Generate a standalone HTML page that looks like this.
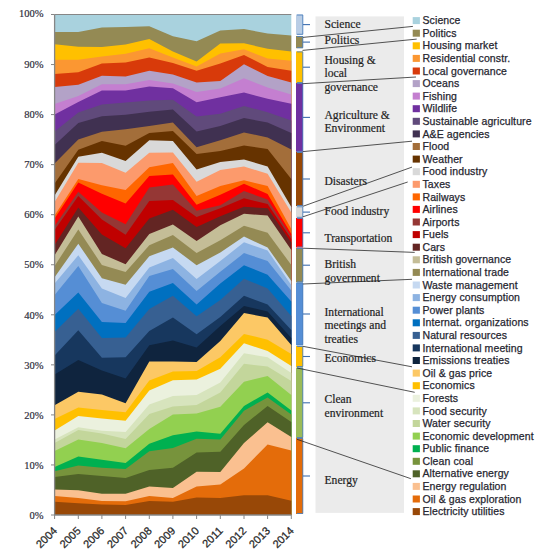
<!DOCTYPE html>
<html><head><meta charset="utf-8">
<style>
html,body{margin:0;padding:0;background:#fff;width:550px;height:553px;overflow:hidden}
svg{display:block}
.yl{font-family:"Liberation Serif",serif;font-size:10.5px;fill:#303040;stroke:#303040;stroke-width:0.2px;text-anchor:end}
.xl{font-family:"Liberation Sans",sans-serif;font-size:11px;fill:#262626;stroke:#262626;stroke-width:0.25px;text-anchor:end}
.cl{font-family:"Liberation Serif",serif;font-size:11.6px;fill:#1e1e1e;stroke:#1e1e1e;stroke-width:0.2px}
.lg{font-family:"Liberation Sans",sans-serif;font-size:10.5px;letter-spacing:0.1px;fill:#262630;stroke:#262630;stroke-width:0.25px}
</style></head><body>
<svg width="550" height="553" viewBox="0 0 550 553">
<polygon points="54.6,14.5 78.3,14.5 101.9,14.5 125.6,14.5 149.3,14.5 172.9,14.5 196.6,14.5 220.3,14.5 244.0,14.5 267.6,14.5 291.3,14.5 291.3,515.0 54.6,515.0" fill="#a9d2de"/>
<polygon points="54.6,32.0 78.3,32.0 101.9,27.6 125.6,26.9 149.3,26.2 172.9,36.3 196.6,41.3 220.3,30.5 244.0,29.1 267.6,33.4 291.3,35.5 291.3,515.0 54.6,515.0" fill="#948a54"/>
<polygon points="54.6,44.2 78.3,46.8 101.9,47.0 125.6,44.5 149.3,39.1 172.9,51.5 196.6,61.4 220.3,43.5 244.0,43.3 267.6,48.8 291.3,51.4 291.3,515.0 54.6,515.0" fill="#ffc000"/>
<polygon points="54.6,59.7 78.3,59.7 101.9,56.4 125.6,53.8 149.3,48.3 172.9,57.5 196.6,66.4 220.3,53.5 244.0,49.2 267.6,58.5 291.3,60.7 291.3,515.0 54.6,515.0" fill="#fb9732"/>
<polygon points="54.6,74.1 78.3,72.2 101.9,63.6 125.6,62.5 149.3,57.5 172.9,63.0 196.6,70.8 220.3,63.6 244.0,55.0 267.6,67.0 291.3,70.8 291.3,515.0 54.6,515.0" fill="#d83a0a"/>
<polygon points="54.6,87.1 78.3,84.7 101.9,75.8 125.6,76.5 149.3,70.8 172.9,74.5 196.6,82.5 220.3,81.0 244.0,64.3 267.6,76.1 291.3,82.5 291.3,515.0 54.6,515.0" fill="#b3a2c7"/>
<polygon points="54.6,104.1 78.3,96.0 101.9,84.3 125.6,84.2 149.3,80.0 172.9,83.5 196.6,92.0 220.3,88.6 244.0,78.2 267.6,87.5 291.3,94.4 291.3,515.0 54.6,515.0" fill="#c47fd0"/>
<polygon points="54.6,114.5 78.3,102.0 101.9,90.5 125.6,90.4 149.3,86.5 172.9,88.3 196.6,102.2 220.3,97.2 244.0,92.6 267.6,98.7 291.3,103.7 291.3,515.0 54.6,515.0" fill="#7030a0"/>
<polygon points="54.6,131.5 78.3,112.5 101.9,104.5 125.6,102.4 149.3,100.5 172.9,99.8 196.6,116.6 220.3,113.8 244.0,105.9 267.6,112.3 291.3,120.5 291.3,515.0 54.6,515.0" fill="#604a7b"/>
<polygon points="54.6,145.0 78.3,123.0 101.9,116.3 125.6,114.8 149.3,111.8 172.9,109.5 196.6,131.5 220.3,126.0 244.0,118.1 267.6,122.4 291.3,133.0 291.3,515.0 54.6,515.0" fill="#403151"/>
<polygon points="54.6,163.5 78.3,139.5 101.9,131.7 125.6,129.3 149.3,126.0 172.9,122.4 196.6,147.3 220.3,140.3 244.0,132.4 267.6,137.5 291.3,149.5 291.3,515.0 54.6,515.0" fill="#a36e3a"/>
<polygon points="54.6,183.5 78.3,149.7 101.9,141.0 125.6,145.8 149.3,133.0 172.9,131.0 196.6,154.0 220.3,150.9 244.0,145.5 267.6,149.1 291.3,179.0 291.3,515.0 54.6,515.0" fill="#663300"/>
<polygon points="54.6,195.5 78.3,156.7 101.9,152.8 125.6,161.0 149.3,140.3 172.9,141.0 196.6,169.5 220.3,162.0 244.0,159.4 267.6,166.6 291.3,207.0 291.3,515.0 54.6,515.0" fill="#d9d9d9"/>
<polygon points="54.6,202.0 78.3,162.8 101.9,163.0 125.6,172.8 149.3,152.7 172.9,152.4 196.6,181.8 220.3,170.0 244.0,166.6 267.6,173.7 291.3,212.5 291.3,515.0 54.6,515.0" fill="#fc9a6c"/>
<polygon points="54.6,215.5 78.3,179.0 101.9,185.3 125.6,190.0 149.3,167.3 172.9,163.0 196.6,196.0 220.3,186.0 244.0,180.2 267.6,186.0 291.3,229.0 291.3,515.0 54.6,515.0" fill="#ff6600"/>
<polygon points="54.6,218.5 78.3,182.6 101.9,193.8 125.6,203.5 149.3,175.9 172.9,174.5 196.6,204.8 220.3,194.8 244.0,183.8 267.6,193.9 291.3,234.0 291.3,515.0 54.6,515.0" fill="#ff0000"/>
<polygon points="54.6,226.0 78.3,191.7 101.9,212.5 125.6,224.3 149.3,187.5 172.9,184.5 196.6,210.7 220.3,205.3 244.0,191.0 267.6,199.6 291.3,236.5 291.3,515.0 54.6,515.0" fill="#953735"/>
<polygon points="54.6,230.0 78.3,196.0 101.9,219.5 125.6,234.8 149.3,201.0 172.9,200.0 196.6,217.0 220.3,208.3 244.0,198.2 267.6,204.0 291.3,239.0 291.3,515.0 54.6,515.0" fill="#c00000"/>
<polygon points="54.6,245.0 78.3,207.5 101.9,234.5 125.6,248.3 149.3,218.5 172.9,209.8 196.6,227.0 220.3,216.3 244.0,206.8 267.6,208.2 291.3,242.5 291.3,515.0 54.6,515.0" fill="#632523"/>
<polygon points="54.6,255.3 78.3,216.5 101.9,254.0 125.6,264.2 149.3,234.0 172.9,224.4 196.6,240.9 220.3,225.2 244.0,213.8 267.6,215.5 291.3,250.0 291.3,515.0 54.6,515.0" fill="#c4bd97"/>
<polygon points="54.6,266.0 78.3,229.4 101.9,265.0 125.6,272.0 149.3,245.3 172.9,235.1 196.6,253.1 220.3,240.3 244.0,225.8 267.6,232.8 291.3,265.0 291.3,515.0 54.6,515.0" fill="#948a54"/>
<polygon points="54.6,277.3 78.3,243.7 101.9,278.3 125.6,284.8 149.3,256.2 172.9,247.4 196.6,265.3 220.3,252.5 244.0,236.6 267.6,247.5 291.3,281.0 291.3,515.0 54.6,515.0" fill="#c6d9f1"/>
<polygon points="54.6,283.5 78.3,255.2 101.9,288.5 125.6,298.0 149.3,267.5 172.9,258.1 196.6,279.0 220.3,261.0 244.0,242.3 267.6,250.5 291.3,285.0 291.3,515.0 54.6,515.0" fill="#8db3e2"/>
<polygon points="54.6,295.0 78.3,266.0 101.9,303.0 125.6,310.8 149.3,276.1 172.9,268.9 196.6,291.0 220.3,271.8 244.0,253.1 267.6,261.0 291.3,290.5 291.3,515.0 54.6,515.0" fill="#558ed5"/>
<polygon points="54.6,315.0 78.3,292.4 101.9,322.0 125.6,323.0 149.3,291.7 172.9,283.1 196.6,304.5 220.3,283.4 244.0,265.3 267.6,274.7 291.3,301.5 291.3,515.0 54.6,515.0" fill="#0070c0"/>
<polygon points="54.6,332.0 78.3,308.7 101.9,338.0 125.6,337.5 149.3,309.0 172.9,295.8 196.6,316.3 220.3,300.0 244.0,278.8 267.6,288.4 291.3,316.0 291.3,515.0 54.6,515.0" fill="#376092"/>
<polygon points="54.6,355.5 78.3,330.3 101.9,357.8 125.6,357.2 149.3,331.0 172.9,317.4 196.6,334.3 220.3,317.0 244.0,295.8 267.6,304.5 291.3,330.0 291.3,515.0 54.6,515.0" fill="#17375e"/>
<polygon points="54.6,374.5 78.3,360.1 101.9,370.4 125.6,378.6 149.3,345.2 172.9,340.4 196.6,347.5 220.3,326.0 244.0,305.9 267.6,311.6 291.3,338.0 291.3,515.0 54.6,515.0" fill="#0f243e"/>
<polygon points="54.6,405.3 78.3,391.7 101.9,394.6 125.6,403.3 149.3,361.6 172.9,361.6 196.6,362.0 220.3,341.0 244.0,313.1 267.6,317.4 291.3,345.0 291.3,515.0 54.6,515.0" fill="#fcc865"/>
<polygon points="54.6,419.0 78.3,407.5 101.9,410.0 125.6,412.3 149.3,380.5 172.9,371.6 196.6,370.9 220.3,357.3 244.0,333.9 267.6,339.7 291.3,354.0 291.3,515.0 54.6,515.0" fill="#ffc000"/>
<polygon points="54.6,430.5 78.3,416.0 101.9,418.5 125.6,420.8 149.3,390.5 172.9,380.2 196.6,379.5 220.3,368.7 244.0,343.3 267.6,350.9 291.3,366.0 291.3,515.0 54.6,515.0" fill="#ebf1de"/>
<polygon points="54.6,439.5 78.3,427.2 101.9,430.8 125.6,432.0 149.3,404.5 172.9,396.0 196.6,395.0 220.3,382.5 244.0,353.2 267.6,357.2 291.3,373.0 291.3,515.0 54.6,515.0" fill="#d7e4bd"/>
<polygon points="54.6,443.0 78.3,430.1 101.9,433.5 125.6,439.0 149.3,414.0 172.9,406.5 196.6,405.0 220.3,392.5 244.0,363.8 267.6,366.6 291.3,381.0 291.3,515.0 54.6,515.0" fill="#c3d69b"/>
<polygon points="54.6,451.0 78.3,439.5 101.9,443.0 125.6,448.3 149.3,429.0 172.9,414.5 196.6,413.5 220.3,406.8 244.0,381.7 267.6,375.9 291.3,395.0 291.3,515.0 54.6,515.0" fill="#92d050"/>
<polygon points="54.6,467.0 78.3,456.6 101.9,459.8 125.6,463.0 149.3,443.8 172.9,435.2 196.6,431.6 220.3,433.7 244.0,405.9 267.6,392.4 291.3,410.5 291.3,515.0 54.6,515.0" fill="#00b050"/>
<polygon points="54.6,471.3 78.3,465.5 101.9,467.8 125.6,468.9 149.3,451.2 172.9,448.1 196.6,438.8 220.3,439.5 244.0,410.7 267.6,397.5 291.3,414.5 291.3,515.0 54.6,515.0" fill="#77933c"/>
<polygon points="54.6,477.0 78.3,474.0 101.9,476.0 125.6,478.0 149.3,470.0 172.9,467.7 196.6,452.6 220.3,451.7 244.0,425.1 267.6,405.9 291.3,422.0 291.3,515.0 54.6,515.0" fill="#4f6228"/>
<polygon points="54.6,489.5 78.3,490.2 101.9,493.8 125.6,493.8 149.3,486.6 172.9,488.0 196.6,471.7 220.3,472.0 244.0,443.1 267.6,422.2 291.3,437.0 291.3,515.0 54.6,515.0" fill="#fac090"/>
<polygon points="54.6,496.0 78.3,498.1 101.9,501.0 125.6,501.3 149.3,496.0 172.9,498.1 196.6,486.6 220.3,484.5 244.0,468.4 267.6,444.5 291.3,450.4 291.3,515.0 54.6,515.0" fill="#e46c0a"/>
<polygon points="54.6,501.7 78.3,503.2 101.9,504.6 125.6,505.0 149.3,501.0 172.9,501.7 196.6,497.4 220.3,498.1 244.0,495.3 267.6,495.3 291.3,500.8 291.3,515.0 54.6,515.0" fill="#984807"/>
<line x1="54.6" y1="14.5" x2="291.3" y2="14.5" stroke="#868686" stroke-width="1"/>
<line x1="54.6" y1="14.5" x2="54.6" y2="515.0" stroke="#868686" stroke-width="1.3"/>
<line x1="54.6" y1="515.0" x2="291.3" y2="515.0" stroke="#868686" stroke-width="1.3"/>
<line x1="51" y1="14.5" x2="54.6" y2="14.5" stroke="#868686" stroke-width="1"/>
<text x="43.6" y="17.2" class="yl">100%</text>
<line x1="51" y1="64.55" x2="54.6" y2="64.55" stroke="#868686" stroke-width="1"/>
<text x="43.6" y="67.8" class="yl">90%</text>
<line x1="51" y1="114.6" x2="54.6" y2="114.6" stroke="#868686" stroke-width="1"/>
<text x="43.6" y="117.9" class="yl">80%</text>
<line x1="51" y1="164.64999999999998" x2="54.6" y2="164.64999999999998" stroke="#868686" stroke-width="1"/>
<text x="43.6" y="167.9" class="yl">70%</text>
<line x1="51" y1="214.7" x2="54.6" y2="214.7" stroke="#868686" stroke-width="1"/>
<text x="43.6" y="218.4" class="yl">60%</text>
<line x1="51" y1="264.75" x2="54.6" y2="264.75" stroke="#868686" stroke-width="1"/>
<text x="43.6" y="268.4" class="yl">50%</text>
<line x1="51" y1="314.79999999999995" x2="54.6" y2="314.79999999999995" stroke="#868686" stroke-width="1"/>
<text x="43.6" y="318.5" class="yl">40%</text>
<line x1="51" y1="364.84999999999997" x2="54.6" y2="364.84999999999997" stroke="#868686" stroke-width="1"/>
<text x="43.6" y="368.5" class="yl">30%</text>
<line x1="51" y1="414.9" x2="54.6" y2="414.9" stroke="#868686" stroke-width="1"/>
<text x="43.6" y="418.6" class="yl">20%</text>
<line x1="51" y1="464.95" x2="54.6" y2="464.95" stroke="#868686" stroke-width="1"/>
<text x="43.6" y="468.6" class="yl">10%</text>
<line x1="51" y1="515.0" x2="54.6" y2="515.0" stroke="#868686" stroke-width="1"/>
<text x="43.6" y="518.7" class="yl">0%</text>
<line x1="54.6" y1="515.0" x2="54.6" y2="519.0" stroke="#868686" stroke-width="1"/>
<text transform="translate(57.8,531.5) rotate(-45)" class="xl">2004</text>
<line x1="78.3" y1="515.0" x2="78.3" y2="519.0" stroke="#868686" stroke-width="1"/>
<text transform="translate(81.5,531.5) rotate(-45)" class="xl">2005</text>
<line x1="101.9" y1="515.0" x2="101.9" y2="519.0" stroke="#868686" stroke-width="1"/>
<text transform="translate(105.1,531.5) rotate(-45)" class="xl">2006</text>
<line x1="125.6" y1="515.0" x2="125.6" y2="519.0" stroke="#868686" stroke-width="1"/>
<text transform="translate(128.8,531.5) rotate(-45)" class="xl">2007</text>
<line x1="149.3" y1="515.0" x2="149.3" y2="519.0" stroke="#868686" stroke-width="1"/>
<text transform="translate(152.5,531.5) rotate(-45)" class="xl">2008</text>
<line x1="172.9" y1="515.0" x2="172.9" y2="519.0" stroke="#868686" stroke-width="1"/>
<text transform="translate(176.1,531.5) rotate(-45)" class="xl">2009</text>
<line x1="196.6" y1="515.0" x2="196.6" y2="519.0" stroke="#868686" stroke-width="1"/>
<text transform="translate(199.8,531.5) rotate(-45)" class="xl">2010</text>
<line x1="220.3" y1="515.0" x2="220.3" y2="519.0" stroke="#868686" stroke-width="1"/>
<text transform="translate(223.5,531.5) rotate(-45)" class="xl">2011</text>
<line x1="244.0" y1="515.0" x2="244.0" y2="519.0" stroke="#868686" stroke-width="1"/>
<text transform="translate(247.2,531.5) rotate(-45)" class="xl">2012</text>
<line x1="267.6" y1="515.0" x2="267.6" y2="519.0" stroke="#868686" stroke-width="1"/>
<text transform="translate(270.8,531.5) rotate(-45)" class="xl">2013</text>
<line x1="291.3" y1="515.0" x2="291.3" y2="519.0" stroke="#868686" stroke-width="1"/>
<text transform="translate(294.5,531.5) rotate(-45)" class="xl">2014</text>
<rect x="315.5" y="16.4" width="88.5" height="496.5" fill="#ebebeb"/>
<rect x="296" y="14.5" width="7" height="20.3" fill="#b9cde5"/>
<path d="M297,15.0 H302.8 V34.3 H297" fill="none" stroke="#4f81bd" stroke-width="0.9"/>
<path d="M303,24.6 H310" fill="none" stroke="#3f6fb0" stroke-width="1.1"/>
<text x="324.5" y="27.5" class="cl">Science</text>
<rect x="296" y="36.0" width="7" height="12.2" fill="#948a54"/>
<path d="M297,36.5 H302.8 V47.7 H297" fill="none" stroke="#4f81bd" stroke-width="0.9"/>
<path d="M303,42.1 H310" fill="none" stroke="#3f6fb0" stroke-width="1.1"/>
<text x="324.5" y="44.0" class="cl">Politics</text>
<rect x="296" y="51.4" width="7" height="31.6" fill="#ffc000"/>
<path d="M297,51.9 H302.8 V82.5 H297" fill="none" stroke="#4f81bd" stroke-width="0.9"/>
<path d="M303,67.2 H310" fill="none" stroke="#3f6fb0" stroke-width="1.1"/>
<text x="324.5" y="64.1" class="cl">Housing &amp;</text>
<text x="324.5" y="77.4" class="cl">local</text>
<text x="324.5" y="90.7" class="cl">governance</text>
<rect x="296" y="83.0" width="7" height="68.8" fill="#7030a0"/>
<path d="M297,83.5 H302.8 V151.3 H297" fill="none" stroke="#4f81bd" stroke-width="0.9"/>
<path d="M303,117.4 H310" fill="none" stroke="#3f6fb0" stroke-width="1.1"/>
<text x="324.5" y="118.8" class="cl">Agriculture &amp;</text>
<text x="324.5" y="132.1" class="cl">Environment</text>
<rect x="296" y="152.0" width="7" height="54.0" fill="#984807"/>
<path d="M297,152.5 H302.8 V205.5 H297" fill="none" stroke="#4f81bd" stroke-width="0.9"/>
<path d="M303,179.0 H310" fill="none" stroke="#3f6fb0" stroke-width="1.1"/>
<text x="324.5" y="184.7" class="cl">Disasters</text>
<rect x="296" y="206.3" width="7" height="11.5" fill="#d9d9d9"/>
<path d="M297,206.8 H302.8 V217.3 H297" fill="none" stroke="#4f81bd" stroke-width="0.9"/>
<path d="M303,212.1 H310" fill="none" stroke="#3f6fb0" stroke-width="1.1"/>
<text x="324.5" y="214.7" class="cl">Food industry</text>
<rect x="296" y="218.0" width="7" height="29.5" fill="#ff0000"/>
<path d="M297,218.5 H302.8 V247.0 H297" fill="none" stroke="#4f81bd" stroke-width="0.9"/>
<path d="M303,232.8 H310" fill="none" stroke="#3f6fb0" stroke-width="1.1"/>
<text x="324.5" y="242.0" class="cl">Transportation</text>
<rect x="296" y="248.0" width="7" height="34.4" fill="#948a54"/>
<path d="M297,248.5 H302.8 V281.9 H297" fill="none" stroke="#4f81bd" stroke-width="0.9"/>
<path d="M303,265.2 H310" fill="none" stroke="#3f6fb0" stroke-width="1.1"/>
<text x="324.5" y="268.2" class="cl">British</text>
<text x="324.5" y="281.5" class="cl">government</text>
<rect x="296" y="282.6" width="7" height="62.7" fill="#558ed5"/>
<path d="M297,283.1 H302.8 V344.8 H297" fill="none" stroke="#4f81bd" stroke-width="0.9"/>
<path d="M303,314.0 H310" fill="none" stroke="#3f6fb0" stroke-width="1.1"/>
<text x="324.5" y="316.0" class="cl">International</text>
<text x="324.5" y="329.3" class="cl">meetings and</text>
<text x="324.5" y="342.6" class="cl">treaties</text>
<rect x="296" y="346.0" width="7" height="21.0" fill="#ffc000"/>
<path d="M297,346.5 H302.8 V366.5 H297" fill="none" stroke="#4f81bd" stroke-width="0.9"/>
<path d="M303,356.5 H310" fill="none" stroke="#3f6fb0" stroke-width="1.1"/>
<text x="324.5" y="362.3" class="cl">Economics</text>
<rect x="296" y="367.5" width="7" height="70.5" fill="#9bbb59"/>
<path d="M297,368.0 H302.8 V437.5 H297" fill="none" stroke="#4f81bd" stroke-width="0.9"/>
<path d="M303,402.8 H310" fill="none" stroke="#3f6fb0" stroke-width="1.1"/>
<text x="324.5" y="403.2" class="cl">Clean</text>
<text x="324.5" y="416.5" class="cl">environment</text>
<rect x="296" y="438.0" width="7" height="76.0" fill="#e36c09"/>
<path d="M297,438.5 H302.8 V513.5 H297" fill="none" stroke="#4f81bd" stroke-width="0.9"/>
<path d="M303,476.0 H310" fill="none" stroke="#3f6fb0" stroke-width="1.1"/>
<text x="324.5" y="483.6" class="cl">Energy</text>
<rect x="412.7" y="17.1" width="7.2" height="7" fill="#a9d2de"/>
<text x="422.5" y="24.2" class="lg">Science</text>
<rect x="412.7" y="29.7" width="7.2" height="7" fill="#948a54"/>
<text x="422.5" y="36.8" class="lg">Politics</text>
<rect x="412.7" y="42.3" width="7.2" height="7" fill="#ffc000"/>
<text x="422.5" y="49.4" class="lg">Housing market</text>
<rect x="412.7" y="54.9" width="7.2" height="7" fill="#fb9732"/>
<text x="422.5" y="62.0" class="lg">Residential constr.</text>
<rect x="412.7" y="67.5" width="7.2" height="7" fill="#d83a0a"/>
<text x="422.5" y="74.6" class="lg">Local governance</text>
<rect x="412.7" y="80.1" width="7.2" height="7" fill="#b3a2c7"/>
<text x="422.5" y="87.2" class="lg">Oceans</text>
<rect x="412.7" y="92.6" width="7.2" height="7" fill="#c47fd0"/>
<text x="422.5" y="99.7" class="lg">Fishing</text>
<rect x="412.7" y="105.2" width="7.2" height="7" fill="#7030a0"/>
<text x="422.5" y="112.3" class="lg">Wildlife</text>
<rect x="412.7" y="117.8" width="7.2" height="7" fill="#604a7b"/>
<text x="422.5" y="124.9" class="lg">Sustainable agriculture</text>
<rect x="412.7" y="130.4" width="7.2" height="7" fill="#403151"/>
<text x="422.5" y="137.5" class="lg">A&amp;E agencies</text>
<rect x="412.7" y="143.0" width="7.2" height="7" fill="#a36e3a"/>
<text x="422.5" y="150.1" class="lg">Flood</text>
<rect x="412.7" y="155.6" width="7.2" height="7" fill="#663300"/>
<text x="422.5" y="162.7" class="lg">Weather</text>
<rect x="412.7" y="168.2" width="7.2" height="7" fill="#d9d9d9"/>
<text x="422.5" y="175.3" class="lg">Food industry</text>
<rect x="412.7" y="180.8" width="7.2" height="7" fill="#fc9a6c"/>
<text x="422.5" y="187.9" class="lg">Taxes</text>
<rect x="412.7" y="193.4" width="7.2" height="7" fill="#ff6600"/>
<text x="422.5" y="200.5" class="lg">Railways</text>
<rect x="412.7" y="205.9" width="7.2" height="7" fill="#ff0000"/>
<text x="422.5" y="213.0" class="lg">Airlines</text>
<rect x="412.7" y="218.5" width="7.2" height="7" fill="#953735"/>
<text x="422.5" y="225.6" class="lg">Airports</text>
<rect x="412.7" y="231.1" width="7.2" height="7" fill="#c00000"/>
<text x="422.5" y="238.2" class="lg">Fuels</text>
<rect x="412.7" y="243.7" width="7.2" height="7" fill="#632523"/>
<text x="422.5" y="250.8" class="lg">Cars</text>
<rect x="412.7" y="256.3" width="7.2" height="7" fill="#c4bd97"/>
<text x="422.5" y="263.4" class="lg">British governance</text>
<rect x="412.7" y="268.9" width="7.2" height="7" fill="#948a54"/>
<text x="422.5" y="276.0" class="lg">International trade</text>
<rect x="412.7" y="281.5" width="7.2" height="7" fill="#c6d9f1"/>
<text x="422.5" y="288.6" class="lg">Waste management</text>
<rect x="412.7" y="294.1" width="7.2" height="7" fill="#8db3e2"/>
<text x="422.5" y="301.2" class="lg">Energy consumption</text>
<rect x="412.7" y="306.7" width="7.2" height="7" fill="#558ed5"/>
<text x="422.5" y="313.8" class="lg">Power plants</text>
<rect x="412.7" y="319.3" width="7.2" height="7" fill="#0070c0"/>
<text x="422.5" y="326.4" class="lg">Internat. organizations</text>
<rect x="412.7" y="331.9" width="7.2" height="7" fill="#376092"/>
<text x="422.5" y="339.0" class="lg">Natural resources</text>
<rect x="412.7" y="344.4" width="7.2" height="7" fill="#17375e"/>
<text x="422.5" y="351.5" class="lg">International meeting</text>
<rect x="412.7" y="357.0" width="7.2" height="7" fill="#0f243e"/>
<text x="422.5" y="364.1" class="lg">Emissions treaties</text>
<rect x="412.7" y="369.6" width="7.2" height="7" fill="#fcc865"/>
<text x="422.5" y="376.7" class="lg">Oil &amp; gas price</text>
<rect x="412.7" y="382.2" width="7.2" height="7" fill="#ffc000"/>
<text x="422.5" y="389.3" class="lg">Economics</text>
<rect x="412.7" y="394.8" width="7.2" height="7" fill="#ebf1de"/>
<text x="422.5" y="401.9" class="lg">Forests</text>
<rect x="412.7" y="407.4" width="7.2" height="7" fill="#d7e4bd"/>
<text x="422.5" y="414.5" class="lg">Food security</text>
<rect x="412.7" y="420.0" width="7.2" height="7" fill="#c3d69b"/>
<text x="422.5" y="427.1" class="lg">Water security</text>
<rect x="412.7" y="432.6" width="7.2" height="7" fill="#92d050"/>
<text x="422.5" y="439.7" class="lg">Economic development</text>
<rect x="412.7" y="445.2" width="7.2" height="7" fill="#00b050"/>
<text x="422.5" y="452.3" class="lg">Public finance</text>
<rect x="412.7" y="457.8" width="7.2" height="7" fill="#77933c"/>
<text x="422.5" y="464.9" class="lg">Clean coal</text>
<rect x="412.7" y="470.3" width="7.2" height="7" fill="#4f6228"/>
<text x="422.5" y="477.4" class="lg">Alternative energy</text>
<rect x="412.7" y="482.9" width="7.2" height="7" fill="#fac090"/>
<text x="422.5" y="490.0" class="lg">Energy regulation</text>
<rect x="412.7" y="495.5" width="7.2" height="7" fill="#e46c0a"/>
<text x="422.5" y="502.6" class="lg">Oil &amp; gas exploration</text>
<rect x="412.7" y="508.1" width="7.2" height="7" fill="#984807"/>
<text x="422.5" y="515.2" class="lg">Electricity utilities</text>
<line x1="303" y1="37.4" x2="412.9" y2="26.4" stroke="#2a2a2a" stroke-width="0.8"/>
<line x1="302.5" y1="50.4" x2="416.7" y2="39.1" stroke="#2a2a2a" stroke-width="0.8"/>
<line x1="302.5" y1="83.7" x2="416" y2="77" stroke="#2a2a2a" stroke-width="0.8"/>
<line x1="302.9" y1="151.6" x2="412" y2="141.2" stroke="#2a2a2a" stroke-width="0.8"/>
<line x1="302.9" y1="206.3" x2="412" y2="167.1" stroke="#2a2a2a" stroke-width="0.8"/>
<line x1="302.9" y1="216.8" x2="407.7" y2="182" stroke="#2a2a2a" stroke-width="0.8"/>
<line x1="302.9" y1="248.2" x2="414.7" y2="252.4" stroke="#2a2a2a" stroke-width="0.8"/>
<line x1="302.9" y1="284.0" x2="412" y2="279.3" stroke="#2a2a2a" stroke-width="0.8"/>
<line x1="302.8" y1="346.3" x2="412" y2="366.8" stroke="#2a2a2a" stroke-width="0.8"/>
<line x1="297" y1="368.0" x2="414.7" y2="392.3" stroke="#2a2a2a" stroke-width="0.8"/>
<line x1="297" y1="439.3" x2="410.9" y2="478.7" stroke="#2a2a2a" stroke-width="0.8"/>
</svg></body></html>
